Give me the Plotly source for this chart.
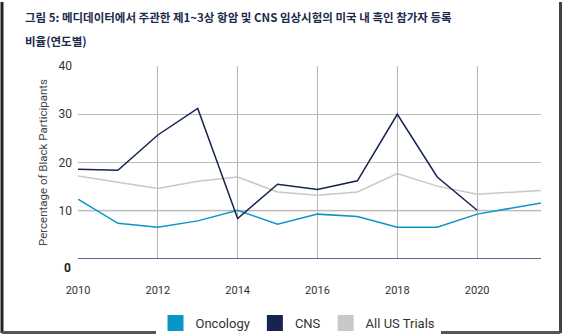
import plotly.graph_objects as go

years = [2010, 2011, 2012, 2013, 2014, 2015, 2016, 2017, 2018, 2019, 2020, 2022]
oncology = [12.4, 7.4, 6.6, 7.9, 10.1, 7.2, 9.3, 8.8, 6.6, 6.6, 9.3, 12.2]
cns_years = [2010, 2011, 2012, 2013, 2014, 2015, 2016, 2017, 2018, 2019, 2020]
cns = [18.6, 18.4, 25.7, 31.2, 8.4, 15.5, 14.4, 16.2, 30.0, 17.0, 10.1]
all_us = [17.2, 15.9, 14.6, 16.1, 17.0, 13.9, 13.2, 13.9, 17.7, 15.1, 13.4, 14.4]

x_ticks = [2010, 2012, 2014, 2016, 2018, 2020]
y_ticks = [10, 20, 30, 40]

title_1 = "그림 5: 메디데이터에서 주관한 제1~3상 항암 및 CNS 임상시험의 미국 내 흑인 참가자 등록"
title_2 = "비율(연도별)"
y_title = "Percentage of Black Participants"

C_ONC = "#0a95c9"
C_CNS = "#15254f"
C_ALL = "#c8c8c8"

W, H = 563, 336
L, R, T, B = 78, 22, 66, 77
pw, ph = W - L - R, H - T - B

def px_x(p):
    return (p - L) / pw

def px_y(p):
    return (H - B - p) / ph

fig = go.Figure()
fig.add_trace(go.Scatter(x=years, y=all_us, mode="lines", line=dict(color=C_ALL, width=1.5), showlegend=False))
fig.add_trace(go.Scatter(x=years, y=oncology, mode="lines", line=dict(color=C_ONC, width=1.5), showlegend=False))
fig.add_trace(go.Scatter(x=cns_years, y=cns, mode="lines", line=dict(color=C_CNS, width=1.5), showlegend=False))

for name, col in [("Oncology", C_ONC), ("CNS", C_CNS), ("All US Trials", C_ALL)]:
    fig.add_trace(go.Scatter(x=[None], y=[None], mode="markers", name=name,
                             marker=dict(symbol="square", size=16, color=col)))

fig.update_layout(
    width=W, height=H,
    margin=dict(l=L, r=R, t=T, b=B, autoexpand=False),
    paper_bgcolor="white", plot_bgcolor="white",
    font=dict(family="Roboto", size=11, color="#333333"),
    xaxis=dict(range=[2010, 2021.6], tickvals=x_ticks, showgrid=True, gridcolor="#b5b5b5", gridwidth=1,
               zeroline=False, showline=False, ticks="", ticklabelstandoff=23, automargin=False,
               tickfont=dict(size=11, color="#333333")),
    yaxis=dict(range=[0, 40], tickvals=y_ticks, showgrid=True, gridcolor="#bdbdbd", gridwidth=1,
               zeroline=False, showline=False, ticks="", ticklabelstandoff=5, automargin=False,
               tickfont=dict(size=12, color="#333333"),
               title=dict(text=y_title, font=dict(size=11.5, color="#444444"), standoff=8)),
    legend=dict(orientation="h", x=px_x(298), xanchor="center", y=px_y(323), yanchor="middle",
                font=dict(size=13, color="#333333"), itemwidth=30, traceorder="normal"),
    showlegend=True,
)

shapes = [
    dict(type="line", xref="paper", yref="y", x0=0, x1=1, y0=10, y1=10, line=dict(color="#dedede", width=2), layer="below"),
    dict(type="line", xref="paper", yref="y", x0=0, x1=1, y0=0, y1=0, line=dict(color="#5c6b88", width=2), layer="above"),
    # outer frame, open at the top
    dict(type="line", xref="paper", yref="paper", x0=px_x(2), x1=px_x(2), y0=px_y(2), y1=px_y(333),
         line=dict(color="#222222", width=3)),
    dict(type="line", xref="paper", yref="paper", x0=px_x(560.5), x1=px_x(560.5), y0=px_y(2), y1=px_y(333),
         line=dict(color="#444444", width=3)),
    dict(type="line", xref="paper", yref="paper", x0=px_x(2), x1=px_x(560.5), y0=px_y(332.5), y1=px_y(332.5),
         line=dict(color="#555555", width=3)),
]
fig.update_layout(shapes=shapes)

annotations = [
    dict(text="<b>" + title_1 + "</b>", xref="paper", yref="paper", x=px_x(23), y=px_y(17), xanchor="left", yanchor="middle",
         showarrow=False, font=dict(family="Noto Sans CJK KR", size=11.5, color="#1d2b4b")),
    dict(text="<b>" + title_2 + "</b>", xref="paper", yref="paper", x=px_x(23), y=px_y(41), xanchor="left", yanchor="middle",
         showarrow=False, font=dict(family="Noto Sans CJK KR", size=11.5, color="#1d2b4b")),
    dict(text="<b>0</b>", xref="paper", yref="paper", x=px_x(73), y=px_y(268), xanchor="right", yanchor="middle",
         showarrow=False, font=dict(family="Roboto", size=12, color="#222222")),
]
fig.update_layout(annotations=annotations)

fig.write_html("out.html")
